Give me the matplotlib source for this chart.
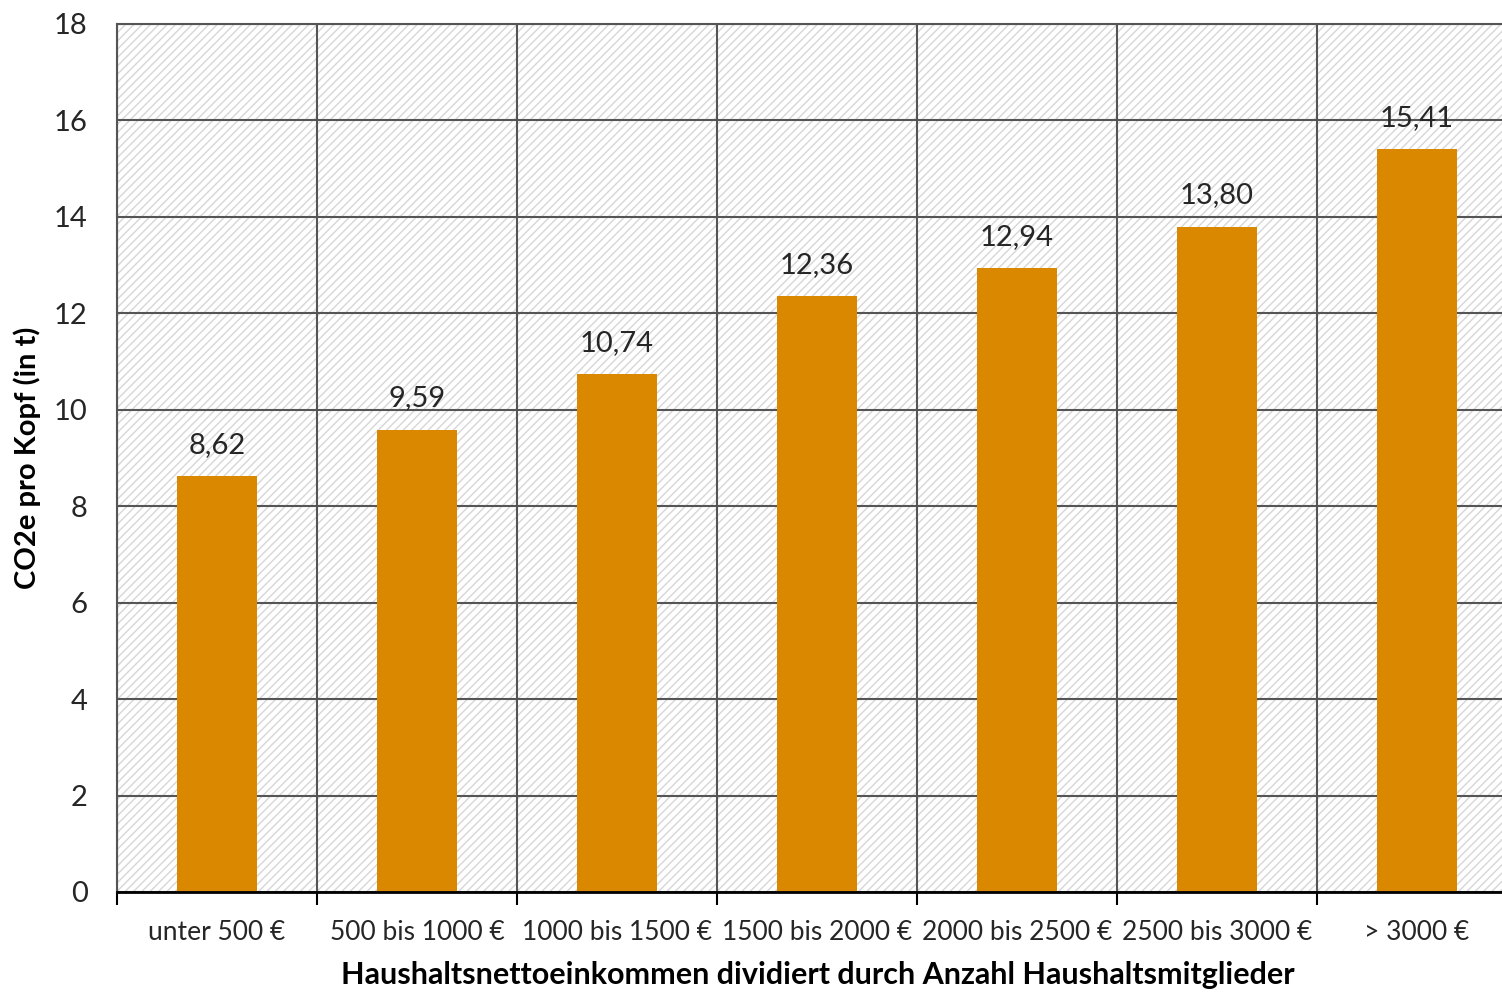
import matplotlib.pyplot as plt
import numpy as np
from matplotlib.patches import Rectangle

categories = [
    "unter 500 €",
    "500 bis 1000 €",
    "1000 bis 1500 €",
    "1500 bis 2000 €",
    "2000 bis 2500 €",
    "2500 bis 3000 €",
    "> 3000 €",
]
values = [8.62, 9.59, 10.74, 12.36, 12.94, 13.80, 15.41]
yticks = [0, 2, 4, 6, 8, 10, 12, 14, 16, 18]

bar_color = "#D98800"
grid_color = "#555555"
text_color = "#262626"

plt.rcParams["font.family"] = ["Lato", "DejaVu Sans"]
plt.rcParams["hatch.linewidth"] = 1.0

fig = plt.figure(figsize=(15.02, 9.92), dpi=100)
ax = fig.add_axes([117 / 1502, 1 - 892 / 992, 1400 / 1502, 868 / 992])

# hatched background
bg = Rectangle((0, 0), 1, 1, transform=ax.transAxes, facecolor="white",
               edgecolor="#d6d6d6", hatch="////", linewidth=0, zorder=0)
ax.add_patch(bg)

x = np.arange(len(categories))
ax.bar(x, values, width=0.4, color=bar_color, zorder=3)

for xi, v in zip(x, values):
    ax.annotate(f"{v:.2f}".replace(".", ","), (xi, v), xytext=(0, 13),
                textcoords="offset points", ha="center", va="bottom",
                fontsize=21, color=text_color, zorder=4)

ax.set_xlim(-0.5, len(categories) - 0.5)
ax.set_ylim(0, 18)
ax.set_yticks(yticks)
ax.set_xticks(np.arange(len(categories) + 1) - 0.5)
ax.set_xticklabels([])
ax.set_xticks(x, minor=True)
ax.set_xticklabels(categories, minor=True)

ax.tick_params(axis="x", which="major", direction="out", length=9, width=1.5,
               color="black")
ax.tick_params(axis="x", which="minor", length=0, pad=20, labelsize=19,
               labelcolor=text_color)
ax.tick_params(axis="y", length=0, pad=21, labelsize=21, labelcolor=text_color)

ax.grid(True, which="major", color=grid_color, linewidth=1.5, zorder=1)
ax.set_axisbelow(True)

for side in ["top", "left", "right"]:
    ax.spines[side].set_color(grid_color)
    ax.spines[side].set_linewidth(1.5)
ax.spines["bottom"].set_color("black")
ax.spines["bottom"].set_linewidth(2)
ax.spines["bottom"].set_zorder(5)

ax.set_ylabel("CO2e pro Kopf (in t)", fontsize=21, fontweight="bold",
              color="black")
ax.yaxis.set_label_coords((41 - 117) / 1400, 0.5)
fig.text(818 / 1502, 1 - 975 / 992,
         "Haushaltsnettoeinkommen dividiert durch Anzahl Haushaltsmitglieder",
         ha="center", va="center", fontsize=22, fontweight="bold", color="black")

fig.savefig("out.png", dpi=100)
